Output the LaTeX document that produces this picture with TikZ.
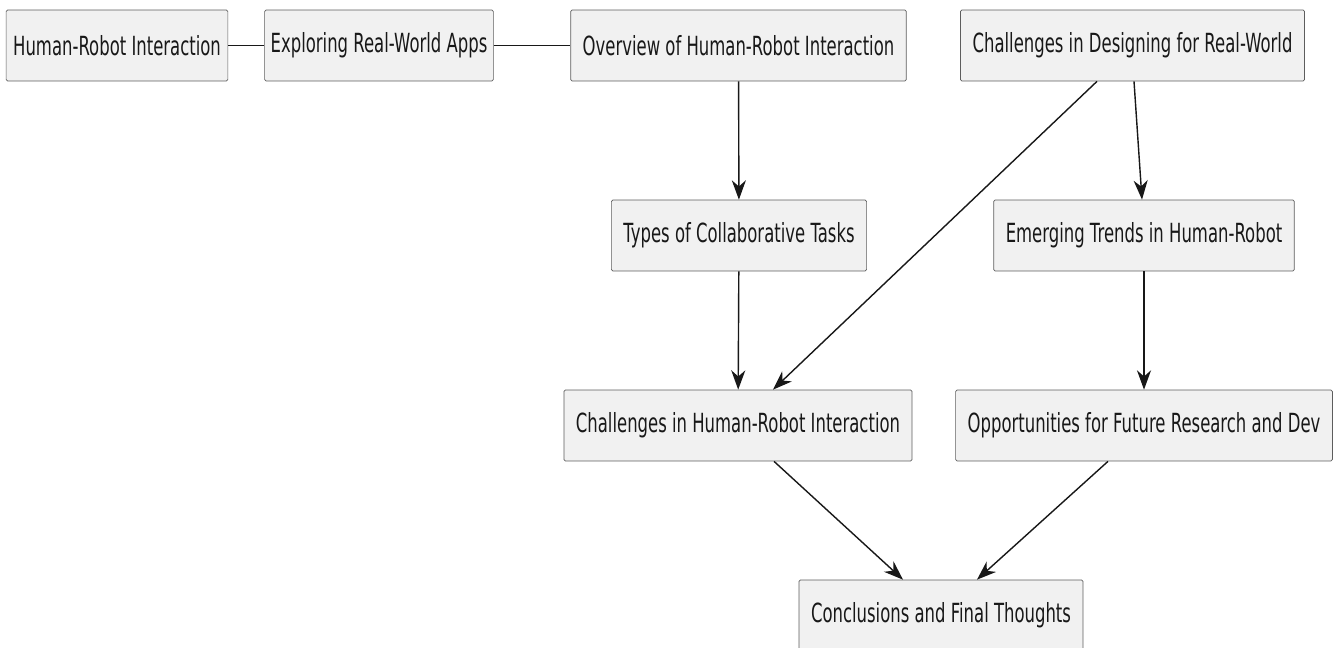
\documentclass[tikz,border=0pt]{standalone}
\usepackage{fontspec}
\setmainfont{DejaVu Sans}[FakeStretch=0.625]
\usetikzlibrary{arrows.meta}
\definecolor{boxfill}{HTML}{F1F1F1}
\definecolor{inkgray}{HTML}{181818}
\begin{document}
\begin{tikzpicture}[
        x=0.02cm, y=-0.02cm,
        topic/.style={draw=inkgray!70, fill=boxfill, rounded corners=0.8pt, minimum height=1.42cm,
          inner xsep=0.24cm, font=\fontsize{15}{18}\selectfont, text=inkgray},
        link/.style={inkgray, line width=0.8pt},
        arr/.style={link, -{Stealth[length=11pt, width=8pt, inset=3.5pt]}}
      ]
        \useasboundingbox (0,0) rectangle (1336,648);
        \node[topic, inner xsep=0.14cm] (hri) at (117,45.5) {Human-Robot Interaction};
        \node[topic, inner xsep=0.12cm] (apps) at (379,45.5) {Exploring Real-World Apps};
        \node[topic] (overview) at (738.5,45.5) {Overview of Human-Robot Interaction};
        \node[topic] (design) at (1132.5,45.5) {Challenges in Designing for Real-World};
        \node[topic] (tasks) at (739,235.5) {Types of Collaborative Tasks};
        \node[topic] (trends) at (1144,235.5) {Emerging Trends in Human-Robot};
        \node[topic] (chall) at (738,425.5) {Challenges in Human-Robot Interaction};
        \node[topic] (future) at (1144,425.5) {Opportunities for Future Research and Dev};
        \node[topic] (concl) at (941,615.5) {Conclusions and Final Thoughts};
        \draw[link] (hri) -- (apps);
        \draw[link] (apps) -- (overview);
        \draw[arr] (overview) -- (tasks);
        \draw[arr] (tasks) -- (chall);
        \draw[arr] ([xshift=-0.71cm]design.south) -- ([xshift=0.7cm]chall.north);
        \draw[arr] ([xshift=0.03cm]design.south) -- ([xshift=-0.04cm]trends.north);
        \draw[arr] (trends) -- (future);
        \draw[arr] ([xshift=0.72cm]chall.south) -- ([xshift=-0.76cm]concl.north);
        \draw[arr] ([xshift=-0.72cm]future.south) -- ([xshift=0.72cm]concl.north);
      \end{tikzpicture}
\end{document}
